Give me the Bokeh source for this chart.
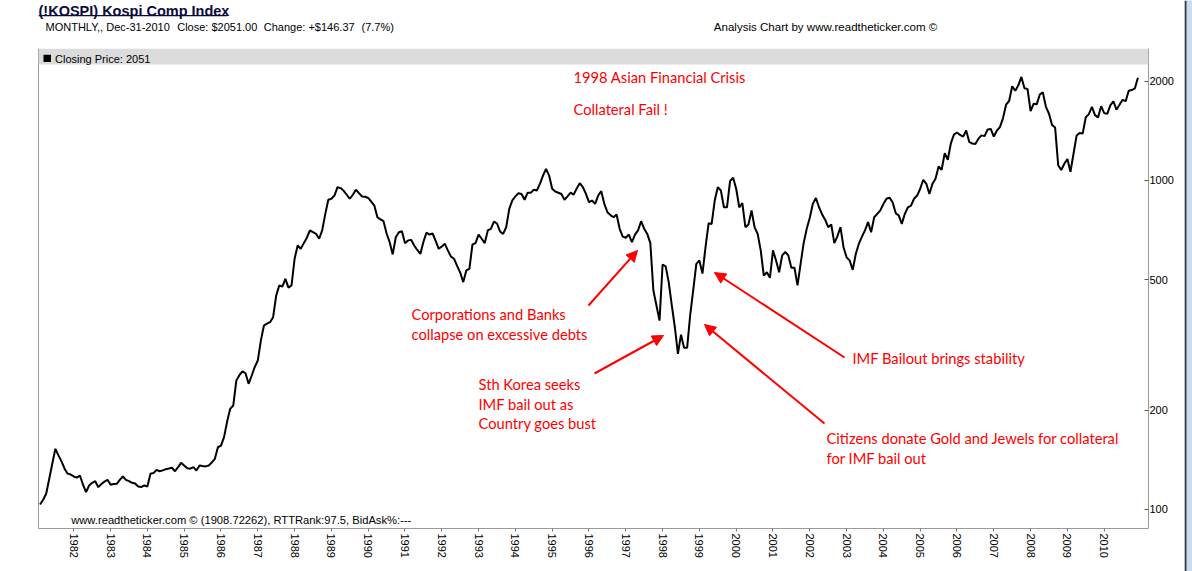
import math
from bokeh.plotting import figure
from bokeh.layouts import column, row
from bokeh.models import (Range1d, LinearAxis, LogAxis, FixedTicker, PrintfTickFormatter,
                          Label, Arrow, NormalHead, BoxAnnotation, ColumnDataSource)
from bokeh.embed import file_html
from bokeh.resources import INLINE

# ---- KOSPI monthly closes (first value of 1981 is February) ----
close_1981 = [103.6, 107, 111.6, 124, 138, 152.9, 146, 140, 133, 128.5, 127.7]
close_1982 = [126, 125, 126.9, 119, 112.9, 118.3, 120.5, 121.9, 116.9, 119.5, 121.5, 123.1]
close_1983 = [118.9, 119.5, 119.7, 123, 126, 123, 121.9, 120.5, 120, 117.5, 117, 118.3]
close_1984 = [117.5, 128.4, 129, 132, 130.7, 131.5, 132.6, 133.2, 133.9, 130.7, 134.5, 138.6]
close_1985 = [136, 133.5, 133, 134.5, 131.4, 136.1, 135.6, 135.2, 136.1, 139, 142.6, 154.6]
close_1986 = [156.3, 165.9, 185, 202.3, 207, 246.6, 256, 263, 259.5, 241, 255, 271]
close_1987 = [283.6, 326, 362.4, 367, 371, 384.1, 446.7, 479.5, 476, 502.5, 472.6, 479.5]
close_1988 = [578, 634.6, 620, 645, 670, 704.7, 697, 688.5, 665, 705, 790, 873.6]
close_1989 = [880, 900, 954, 948, 930, 905, 880, 905, 937, 915, 894, 892]
close_1990 = [885, 862, 839, 773, 762, 752, 690, 649.5, 596, 672, 696, 701]
close_1991 = [645, 657, 660, 634.6, 615, 598, 650, 694, 685, 690, 655, 620]
close_1992 = [630, 642, 612, 587, 578, 550, 525, 491, 533, 539, 639, 645]
close_1993 = [685, 665, 645, 705, 713, 750, 740, 700, 688, 721, 820, 870]
close_1994 = [895, 915, 910, 874, 918, 917, 937, 932, 977, 1035, 1085, 1035]
close_1995 = [944, 926, 918, 910, 874, 895, 918, 906, 945, 981, 955, 910]
close_1996 = [859, 869, 849, 900, 928, 849, 801, 785, 773, 788, 713, 675]
close_1997 = [670, 685, 649, 685, 705, 752, 713, 688, 645, 463, 417, 375]
close_1998 = [555.5, 548, 491, 417, 358, 297, 340, 310, 310, 390, 465, 558]
close_1999 = [571, 521, 627, 741, 738, 869, 954, 932, 829, 829, 995, 1019]
close_2000 = [944, 829, 853, 721, 735, 811, 721, 688, 613, 514, 526, 506]
close_2001 = [613, 571, 526, 592, 606, 592, 543, 543, 480, 558, 645, 713]
close_2002 = [770, 850, 885, 829, 790, 760, 721, 735, 645, 676, 721, 627]
close_2003 = [584, 571, 535, 598, 642, 675, 705, 747, 696, 773, 792, 811]
close_2004 = [848, 880, 887, 859, 796, 783, 738, 792, 829, 839, 880, 900]
close_2005 = [944, 1005, 977, 910, 977, 1012, 1103, 1078, 1211, 1156, 1297, 1379]
close_2006 = [1399, 1375, 1359, 1419, 1310, 1295, 1290, 1340, 1371, 1364, 1430, 1434]
close_2007 = [1360, 1417, 1453, 1545, 1700, 1744, 1933, 1874, 1946, 2064, 1906, 1897]
close_2008 = [1625, 1712, 1704, 1825, 1852, 1674, 1595, 1474, 1448, 1113, 1076, 1124]
close_2009 = [1162, 1063, 1206, 1369, 1395, 1390, 1557, 1591, 1673, 1580, 1555, 1682]
close_2010 = [1602, 1594, 1692, 1741, 1641, 1698, 1759, 1742, 1873, 1883, 1904.63, 2051.00]

year_ticks = list(range(1982, 2011))
price_ticks = [100, 200, 500, 1000, 2000]

yearly = [
    (1981, close_1981), (1982, close_1982), (1983, close_1983), (1984, close_1984),
    (1985, close_1985), (1986, close_1986), (1987, close_1987), (1988, close_1988),
    (1989, close_1989), (1990, close_1990), (1991, close_1991), (1992, close_1992),
    (1993, close_1993), (1994, close_1994), (1995, close_1995), (1996, close_1996),
    (1997, close_1997), (1998, close_1998), (1999, close_1999), (2000, close_2000),
    (2001, close_2001), (2002, close_2002), (2003, close_2003), (2004, close_2004),
    (2005, close_2005), (2006, close_2006), (2007, close_2007), (2008, close_2008),
    (2009, close_2009), (2010, close_2010),
]
xs, ys = [], []
for year, vals in yearly:
    first = 12 - len(vals)
    for i, v in enumerate(vals):
        xs.append(year + (first + i) / 12.0)
        ys.append(v)

last_close = ys[-1]
prev_close = ys[-2]
change = last_close - prev_close
pct = change / prev_close * 100

# ---- page geometry (pixels) ----
PAGE_W, PAGE_H = 1192, 571
EDGE_W = 8                       # window edge strip on the right
CHART_W = PAGE_W - EDGE_W        # 1184
HEAD_H = 48                      # header band above the chart
MAIN_H = PAGE_H - HEAD_H         # 523
FL, FR, FB = 38, 1148, MAIN_H - 43   # frame edges inside the chart figure (top = 0)
X0, X1 = 1981.041, 2011.204      # decimal years across the frame
Y0, Y1 = 87.54, 2518.6           # log price range across the frame

TICK_FONT = "Liberation Sans"
AX_GRAY = "#9a9a9a"
RED = "#ff0000"
NOTE_FONT = "Lato"
NOTE_SIZE = "14.7px"
TITLE_C = "#0c0c3c"


def dx(px):
    return X0 + (px - FL) / (FR - FL) * (X1 - X0)


def dy(py):
    """page-pixel y (from the top of the page) to a price on the log axis"""
    py = py - HEAD_H
    l0, l1 = math.log10(Y0), math.log10(Y1)
    return 10 ** (l0 + (FB - py) / FB * (l1 - l0))


# ---------------- header (frame shares the chart's left/right edges) ----------------
head = figure(width=CHART_W, height=HEAD_H, x_range=Range1d(FL, FR),
              y_range=Range1d(HEAD_H, 0), x_axis_location=None, y_axis_location=None,
              output_backend="svg", toolbar_location=None,
              min_border_left=FL, min_border_right=CHART_W - FR,
              min_border_top=0, min_border_bottom=0)
head.grid.visible = False
head.outline_line_color = None


def head_label(px, py, text, size="11px", color="black", style="normal"):
    head.add_layout(Label(x=px, y=py, text=text, text_font=TICK_FONT, text_font_size=size,
                          text_color=color, text_font_style=style, text_align="left",
                          text_baseline="middle"))


head_label(38, 10, "(!KOSPI) Kospi Comp Index", size="14.5px", color=TITLE_C, style="bold")
head.add_layout(BoxAnnotation(left=38, right=227, top=14.5, bottom=15.7,
                              fill_color=TITLE_C, fill_alpha=1.0, line_color=None))
head_label(45, 26, "MONTHLY,, Dec-31-2010")
head_label(176.7, 26, f"Close: ${last_close:.2f}")
head_label(263.3, 26, f"Change: +${change:.2f}")
head_label(361, 26, f"({pct:.1f}%)")
head_label(713.3, 26, "Analysis Chart by www.readtheticker.com \u00a9", size="11.55px")

# ---------------- chart ----------------
p = figure(width=CHART_W, height=MAIN_H, x_range=Range1d(X0, X1), y_range=Range1d(Y0, Y1),
           y_axis_type="log", x_axis_location=None, y_axis_location=None,
           output_backend="svg", toolbar_location=None,
           min_border_left=FL, min_border_right=CHART_W - FR,
           min_border_top=0, min_border_bottom=MAIN_H - FB)
p.grid.visible = False
p.outline_line_color = None

xa = LinearAxis(ticker=FixedTicker(ticks=year_ticks), formatter=PrintfTickFormatter(format="%d"))
xa.major_label_orientation = -math.pi / 2
xa.axis_line_color = AX_GRAY
xa.major_tick_line_color = "#777777"
xa.major_tick_in = 0
xa.major_tick_out = 3
xa.minor_tick_line_color = None
xa.major_label_standoff = 2
xa.major_label_text_font = TICK_FONT
xa.major_label_text_font_size = "11px"
xa.major_label_text_color = "black"
p.add_layout(xa, "below")

ya = LogAxis(ticker=FixedTicker(ticks=price_ticks), formatter=PrintfTickFormatter(format="%d"))
ya.axis_line_color = AX_GRAY
ya.major_tick_line_color = "#555555"
ya.major_tick_in = 4
ya.major_tick_out = 0
ya.minor_tick_line_color = None
ya.major_label_standoff = 1
ya.major_label_text_font = TICK_FONT
ya.major_label_text_font_size = "11px"
ya.major_label_text_color = "black"
p.add_layout(ya, "right")

la = LogAxis(ticker=FixedTicker(ticks=[]))
la.axis_line_color = AX_GRAY
la.major_tick_line_color = None
la.minor_tick_line_color = None
la.major_label_text_font_size = "0px"
p.add_layout(la, "left")

# grey caption strip across the top of the frame
p.add_layout(BoxAnnotation(bottom=dy(64), fill_color="#dcdcdc", fill_alpha=1.0,
                           line_color=None))
p.add_layout(BoxAnnotation(left=dx(43), right=dx(50.5), top=dy(54.2), bottom=dy(61.6),
                           fill_color="black", fill_alpha=1.0, line_color=None))

src = ColumnDataSource(dict(x=xs, y=ys))
p.line("x", "y", source=src, line_color="black", line_width=2)


def label(px, py, text, size="11px", font=TICK_FONT, color="black"):
    p.add_layout(Label(x=dx(px), y=dy(py), text=text, text_font=font, text_font_size=size,
                       text_color=color, text_align="left", text_baseline="middle"))


label(54.5, 58, f"Closing Price: {last_close:.0f}")
label(70.7, 519, "www.readtheticker.com \u00a9 (1908.72262), RTTRank:97.5, BidAsk%:---",
      size="11.2px")

notes = [
    (573, 76, "1998 Asian Financial Crisis"),
    (573, 108, "Collateral Fail !"),
    (411, 313, "Corporations and Banks"),
    (411, 333, "collapse on excessive debts"),
    (478, 383, "Sth Korea seeks"),
    (478, 403, "IMF bail out as"),
    (478, 422, "Country goes bust"),
    (852, 357, "IMF Bailout brings stability"),
    (826, 437, "Citizens donate Gold and Jewels for collateral"),
    (826, 457, "for IMF bail out"),
]
for nx, ny, t in notes:
    label(nx, ny, t, size=NOTE_SIZE, font=NOTE_FONT, color=RED)

arrows = [
    ((588, 305), (637, 250)),
    ((594, 373), (663, 335)),
    ((844, 357), (714, 272)),
    ((824, 423), (704, 324)),
]
for (sx, sy), (ex, ey) in arrows:
    p.add_layout(Arrow(x_start=dx(sx), y_start=dy(sy), x_end=dx(ex), y_end=dy(ey),
                       line_color=RED, line_width=2,
                       end=NormalHead(size=11, fill_color=RED, line_color=RED, line_width=1)))

# ---------------- window edge ----------------
edge = figure(width=EDGE_W, height=PAGE_H, x_range=Range1d(0, EDGE_W),
              y_range=Range1d(0, PAGE_H), x_axis_location=None, y_axis_location=None,
              output_backend="svg", toolbar_location=None,
              min_border=0, min_border_left=0, min_border_right=0,
              min_border_top=0, min_border_bottom=0)
edge.grid.visible = False
edge.outline_line_color = None
edge.background_fill_color = "#cadcf2"
edge.add_layout(BoxAnnotation(left=0, right=2, fill_color="#3a3a3a", fill_alpha=1.0,
                              line_color=None))

page = row(column(head, p, spacing=0), edge, spacing=0)
open("out.html", "w").write(file_html(page, INLINE))
